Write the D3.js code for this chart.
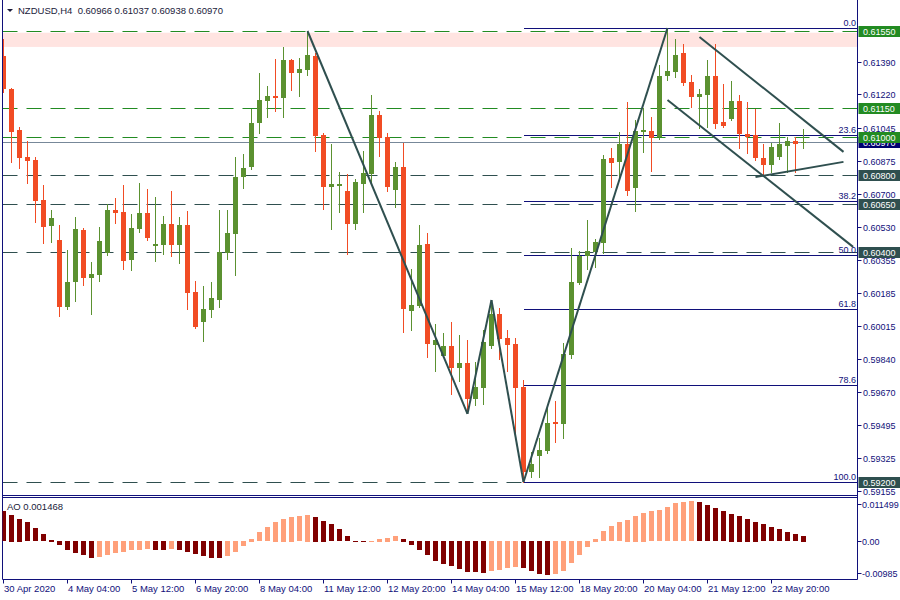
<!DOCTYPE html>
<html><head><meta charset="utf-8">
<script src="https://cdn.jsdelivr.net/npm/d3@7/dist/d3.min.js"></script>
<style>body{margin:0;background:#fff}svg text{font-family:"Liberation Sans",Arial,sans-serif;white-space:pre}</style>
</head><body><svg id="c" width="900" height="600"></svg>
<script>
// ---------- DATA ----------
const symbol = "NZDUSD,H4";
const open  = [.61420,.61248,.61034,.60894,.60878,.60670,.60532,.60461,.60112,.60240,.60513,.60263,.60279,.60393,.60617,.60607,.60357,.60518,.60602,.60430,.60435,.60545,.60435,.60539,.60190,.60034,.60096,.60148,.60393,.60492,.60789,.60841,.61071,.61185,.61211,.61201,.61399,.61331,.61347,.61420,.61008,.60737,.60742,.60716,.60545,.60753,.60805,.61112,.60998,.60722,.60841,.60091,.60117,.60440,.59914,.59857,.59909,.59794,.59820,.59633,.59690,.59909,.60076,.59950,.59919,.59695,.59252,.59336,.59362,.59513,.59502,.59862,.60237,.60378,.60399,.60446,.60888,.60868,.60961,.60732,.61024,.61029,.60998,.61316,.61336,.61435,.61284,.61206,.61217,.61316,.61076,.61092,.61185,.61013,.61008,.60888,.60852,.60894,.60951,.60977,.60966];
const high  = [.61508,.61252,.61050,.60977,.60894,.60748,.60617,.60539,.60409,.60581,.60524,.60347,.60529,.60649,.60680,.60748,.60597,.60758,.60727,.60685,.60586,.60716,.60581,.60612,.60248,.60221,.60242,.60617,.60617,.60894,.60909,.61144,.61331,.61263,.61404,.61467,.61404,.61409,.61550,.61435,.61019,.60961,.60815,.60805,.60779,.60925,.61217,.61133,.61019,.60868,.60966,.60310,.60539,.60498,.60023,.59977,.60034,.59966,.59940,.59826,.59992,.60148,.60107,.59992,.59950,.59732,.59357,.59430,.59602,.59622,.59925,.60419,.60404,.60565,.60466,.60904,.60940,.61024,.61180,.61086,.61149,.61102,.61373,.61566,.61508,.61482,.61321,.61248,.61399,.61482,.61274,.61290,.61217,.61180,.61144,.60961,.60966,.61071,.60998,.60998,.61037];
const low   = [.61232,.60868,.60836,.60758,.60555,.60446,.60451,.60065,.60100,.60143,.60227,.60076,.60248,.60383,.60550,.60310,.60305,.60503,.60461,.60352,.60388,.60378,.60341,.60102,.60003,.59935,.60060,.60112,.60362,.60279,.60732,.60831,.61019,.61102,.61133,.61102,.61243,.61211,.61321,.60925,.60623,.60518,.60607,.60388,.60518,.60607,.60758,.60899,.60716,.60633,.59982,.59992,.60110,.59852,.59779,.59852,.59659,.59727,.59570,.59602,.59607,.59900,.59841,.59779,.59435,.59200,.59226,.59226,.59351,.59409,.59430,.59846,.60232,.60310,.60320,.60393,.60737,.60774,.60696,.60612,.60920,.60821,.60987,.61295,.61310,.61269,.61154,.61045,.61050,.61045,.61050,.61086,.60940,.60914,.60878,.60805,.60815,.60883,.60815,.60815,.60938];
const close = [.61248,.61024,.60888,.60873,.60664,.60529,.60576,.60112,.60242,.60518,.60263,.60284,.60456,.60617,.60602,.60352,.60524,.60602,.60472,.60440,.60545,.60435,.60539,.60185,.60008,.60102,.60159,.60399,.60498,.60789,.60836,.61071,.61191,.61211,.61201,.61399,.61331,.61352,.61425,.61003,.60737,.60753,.60753,.60545,.60763,.60810,.61112,.60993,.60737,.60841,.60102,.60122,.60435,.59919,.59940,.59909,.59794,.59820,.59633,.59695,.59930,.60076,.59945,.59914,.59690,.59252,.59294,.59367,.59508,.59502,.59867,.60242,.60378,.60404,.60451,.60883,.60862,.60961,.60716,.61029,.61034,.60993,.61316,.61342,.61425,.61279,.61206,.61222,.61316,.61066,.61055,.61185,.61013,.60998,.60888,.60852,.60946,.60961,.60977,.60961,.60970];
const ao = [.00773,.00694,.00590,.00486,.00330,.00174,.00043,-.00104,-.00243,-.00312,-.00365,-.00451,-.00425,-.00373,-.00312,-.00286,-.00243,-.00226,-.00217,-.00243,-.00245,-.00217,-.00243,-.00295,-.00347,-.00391,-.00451,-.00453,-.00391,-.00295,-.00139,.00069,.00226,.00356,.00512,.00590,.00642,.00651,.00694,.00642,.00538,.00443,.00304,.00130,.00017,-.00017,.00017,.00069,.00095,.00122,.00069,-.00104,-.00243,-.00365,-.00521,-.00608,-.00651,-.00738,-.00799,-.00816,-.00833,-.00781,-.00755,-.00712,-.00677,-.00712,-.00781,-.00851,-.00885,-.00868,-.00781,-.00573,-.00365,-.00156,.00069,.00252,.00382,.00486,.00564,.00668,.00746,.00773,.00799,.00877,.00981,.01010,.01033,.01018,.00937,.00851,.00773,.00720,.00668,.00590,.00512,.00443,.00356,.00304,.00234,.00182,.001468];
const priceTicks = [0.61390,0.61220,0.61045,0.60875,0.60700,0.60530,0.60355,0.60185,0.60015,0.59840,0.59670,0.59495,0.59325,0.59155];
const aoTicks = [0.011499, 0, -0.00985];
const aoTickLabels = ["0.011499","0.00","-0.00985"];
const timeLabels = ["30 Apr 2020","4 May 04:00","5 May 12:00","6 May 20:00","8 May 04:00","11 May 12:00","12 May 20:00","14 May 04:00","15 May 12:00","18 May 20:00","20 May 04:00","21 May 12:00","22 May 20:00"];
const timeTickBars = [0,8,16,24,32,40,48,56,64,72,80,88,96];
const greenLevels = [0.61550, 0.61150, 0.61000];
const slateLevels = [0.60800, 0.60650, 0.60400, 0.59200];
const currentPrice = 0.60970;
const zone = [0.61541, 0.61467];
const fibHigh = 0.61566, fibLow = 0.59200, fibStartBar = 65;
const fibRatios = [0, 23.6, 38.2, 50, 61.8, 78.6, 100];
const fibLabels = ["0.0","23.6","38.2","50.0","61.8","78.6","100.0"];
const trendLines = [
  [[38,0.61550],[58,0.59555]],
  [[58,0.59555],[61,0.60148]],
  [[61,0.60148],[65,0.59200]],
  [[65,0.59200],[83,0.61566]],
  [[87,0.61519],[105,0.60920]],
  [[83,0.61190],[106.2,0.60425]],
  [[94,0.60789],[105,0.60868]]
];

// ---------- LAYOUT ----------
const svg = d3.select("#c");
const L = 2.5, R = 857.5, mainBottom = 495.5, aoTop = 497.5, aoBottom = 579.5;
const NAVY = "#10107a", GREEN = "#228B22", SLATE = "#2F4F4F";
const BULL = "#5b9130", BEAR = "#f14c24";
const x = d3.scaleLinear().domain([0, 100]).range([3.5, 803.5]);
const y = d3.scaleLinear().domain([0.59200, 0.61550]).range([482, 31]);
const ya = d3.scaleLinear().domain([-0.00985, 0.011499]).range([579, 497]);
const py = v => Math.round(y(v)) + 0.5;

const defs = svg.append("defs");
defs.append("clipPath").attr("id","mainclip").append("rect").attr("x",L).attr("y",0).attr("width",R-L).attr("height",mainBottom);
defs.append("clipPath").attr("id","aoclip").append("rect").attr("x",L).attr("y",aoTop).attr("width",R-L).attr("height",aoBottom-aoTop);

const main = svg.append("g").attr("clip-path","url(#mainclip)");

// zone
main.append("rect").attr("x",L).attr("width",R-L)
  .attr("y",y(zone[0])).attr("height",y(zone[1])-y(zone[0])).attr("fill","#ffe4e1");

// horizontal levels
main.selectAll(".gl").data(greenLevels).join("line").attr("x1",L).attr("x2",R)
  .attr("y1",py).attr("y2",py).attr("stroke",GREEN).attr("stroke-dasharray","15,9");
main.selectAll(".sl").data(slateLevels).join("line").attr("x1",L).attr("x2",R)
  .attr("y1",py).attr("y2",py).attr("stroke",SLATE).attr("stroke-dasharray","15,9");
main.append("line").attr("x1",L).attr("x2",R).attr("y1",py(currentPrice)).attr("y2",py(currentPrice)).attr("stroke","#778899");

// fib levels
const fibPrice = r => fibHigh - r/100*(fibHigh-fibLow);
const fg = main.append("g");
fibRatios.forEach((r,k)=>{
  const yy = py(fibPrice(r));
  fg.append("line").attr("x1",Math.round(x(fibStartBar))).attr("x2",R).attr("y1",yy).attr("y2",yy).attr("stroke",NAVY);
  fg.append("text").attr("x",856).attr("y",yy-2.5).attr("text-anchor","end").attr("font-size","9px").attr("fill",NAVY).text(fibLabels[k]);
});

// candles
const idx = d3.range(open.length);
const cg = main.append("g");
cg.selectAll(".w").data(idx).join("line")
  .attr("x1",i=>x(i)).attr("x2",i=>x(i))
  .attr("y1",i=>Math.round(y(high[i]))).attr("y2",i=>Math.round(y(low[i]))+1)
  .attr("stroke",i=>close[i]>=open[i]?BULL:BEAR);
cg.selectAll(".b").data(idx).join("rect")
  .attr("x",i=>x(i)-2.5).attr("width",5)
  .attr("y",i=>Math.round(y(Math.max(open[i],close[i]))))
  .attr("height",i=>Math.max(1,Math.round(y(Math.min(open[i],close[i])))-Math.round(y(Math.max(open[i],close[i])))))
  .attr("fill",i=>close[i]>=open[i]?BULL:BEAR);

// trend lines
main.selectAll(".t").data(trendLines).join("line")
  .attr("x1",d=>x(d[0][0])).attr("y1",d=>y(d[0][1]))
  .attr("x2",d=>x(d[1][0])).attr("y2",d=>y(d[1][1]))
  .attr("stroke",SLATE).attr("stroke-width",2);

// frames
svg.append("line").attr("x1",L).attr("x2",L).attr("y1",0).attr("y2",aoBottom).attr("stroke",NAVY);
svg.append("line").attr("x1",R).attr("x2",R).attr("y1",0).attr("y2",aoBottom).attr("stroke",NAVY);
svg.append("line").attr("x1",L).attr("x2",R).attr("y1",mainBottom).attr("y2",mainBottom).attr("stroke",NAVY);
svg.append("line").attr("x1",L).attr("x2",R).attr("y1",aoTop).attr("y2",aoTop).attr("stroke",NAVY);
svg.append("line").attr("x1",L).attr("x2",R).attr("y1",aoBottom).attr("y2",aoBottom).attr("stroke",NAVY);

// price axis
const ax = svg.append("g");
priceTicks.forEach(v=>{
  const yy = py(v);
  ax.append("line").attr("x1",R).attr("x2",R+4).attr("y1",yy).attr("y2",yy).attr("stroke",NAVY);
  ax.append("text").attr("x",863).attr("y",yy+3.5).attr("font-size","9px").attr("fill",NAVY).text(v.toFixed(5));
});
function box(v, color){
  const yy = py(v);
  ax.append("rect").attr("x",R+1).attr("y",yy-5.5).attr("width",900-R).attr("height",11).attr("fill",color);
  ax.append("text").attr("x",863).attr("y",yy+3.5).attr("font-size","9px").attr("fill","#fff").text(v.toFixed(5));
}
box(currentPrice, "#000070");
greenLevels.forEach(v=>box(v,GREEN));
slateLevels.forEach(v=>box(v,SLATE));

// AO
const ag = svg.append("g").attr("clip-path","url(#aoclip)");
ag.selectAll("rect").data(idx).join("rect")
  .attr("x",i=>x(i)-2.5).attr("width",5)
  .attr("y",i=>Math.round(Math.min(ya(ao[i]),ya(0))))
  .attr("height",i=>Math.max(1,Math.round(Math.abs(ya(ao[i])-ya(0)))))
  .attr("fill",i=>(i>0 && ao[i]>ao[i-1])?"#ffa07a":"#800000");
const aoOff = [6.5, 0, -6.5];
aoTicks.forEach((v,k)=>{
  const yy = Math.round(ya(v)+aoOff[k])+0.5;
  svg.append("line").attr("x1",R).attr("x2",R+4).attr("y1",yy).attr("y2",yy).attr("stroke",NAVY);
  svg.append("text").attr("x",862).attr("y",yy+3.5).attr("font-size","9px").attr("fill",NAVY).text(aoTickLabels[k]);
});
svg.append("text").attr("x",7).attr("y",509.5).attr("font-size","9.5px").attr("fill","#1a1a3a").text("AO " + ao[ao.length-1].toFixed(6));

// time axis
timeTickBars.forEach((b,k)=>{
  const xx = Math.round(x(b))-0.5;
  svg.append("line").attr("x1",xx).attr("x2",xx).attr("y1",aoBottom).attr("y2",aoBottom+4).attr("stroke",NAVY);
  svg.append("text").attr("x",xx+0.5).attr("y",592).attr("font-size","9.5px").attr("fill",NAVY).text(timeLabels[k]);
});

// header
svg.append("path").attr("d","M7,9 L13,9 L10,12 Z").attr("fill","#1a1a3a");
svg.append("text").attr("x",18).attr("y",14).attr("font-size","9.5px").attr("fill","#1a1a3a")
  .text(symbol + "  " + [open[100],high[100],low[100],close[100]].map(v=>v.toFixed(5)).join(" "));
</script></body></html>
